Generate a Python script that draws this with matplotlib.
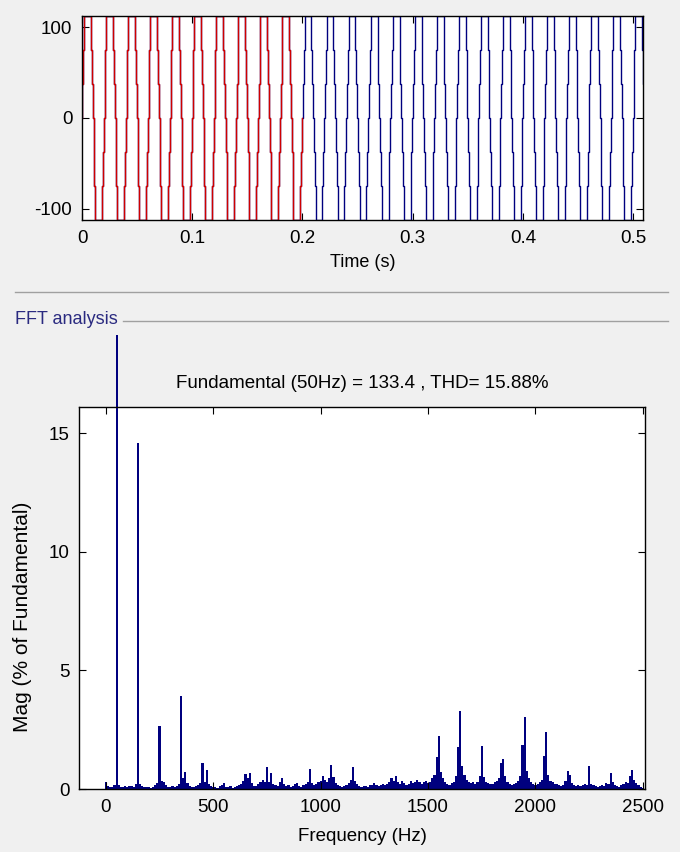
import numpy as np
import matplotlib
matplotlib.use("Agg")
import matplotlib.pyplot as plt
from matplotlib.lines import Line2D
from matplotlib.transforms import Bbox, TransformedBbox

plt.rcParams['font.family'] = ['Liberation Sans', 'DejaVu Sans']
plt.rcParams['axes.unicode_minus'] = False

# one 50 Hz cycle of the staircase signal: switching phase (deg) and level
f0 = 50.0
n_cycles = 26
cycle_deg = [0, 8, 20, 34, 146, 160, 172, 188, 200, 214, 326, 340, 352]
cycle_level = [0, 37.5, 75, 112.5, 75, 37.5, 0, -37.5, -75, -112.5, -75, -37.5, 0]
fft_window = 0.2  # s, part of the signal shown in red

# FFT magnitudes (% of fundamental), 10 Hz bins from 0 to 2500 Hz
mag = [
    0.30, 0.12, 0.10, 0.08, 0.15, 100.0, 0.15, 0.10, 0.08, 0.12, 0.10, 0.14, 0.12, 0.10, 0.20, 14.6, 0.22, 0.12, 0.10, 0.08, 0.10, 0.06, 0.10, 0.18, 0.25,
    2.65, 0.35, 0.28, 0.15, 0.10, 0.08, 0.12, 0.10, 0.14, 0.22, 3.92, 0.45, 0.70, 0.25, 0.12, 0.08, 0.10, 0.14, 0.18, 0.25, 1.08, 0.30, 0.78, 0.22, 0.12,
    0.08, 0.10, 0.06, 0.12, 0.18, 0.25, 0.10, 0.08, 0.12, 0.06, 0.10, 0.14, 0.18, 0.22, 0.35, 0.62, 0.45, 0.68, 0.25, 0.12, 0.14, 0.22, 0.30, 0.38, 0.28,
    0.92, 0.30, 0.68, 0.22, 0.15, 0.12, 0.30, 0.45, 0.20, 0.12, 0.18, 0.10, 0.14, 0.20, 0.25, 0.12, 0.10, 0.15, 0.22, 0.30, 0.85, 0.25, 0.18, 0.22, 0.30,
    0.35, 0.55, 0.40, 0.28, 0.45, 1.00, 0.50, 0.25, 0.15, 0.12, 0.10, 0.14, 0.18, 0.25, 0.40, 0.92, 0.35, 0.20, 0.12, 0.10, 0.14, 0.12, 0.10, 0.15, 0.18,
    0.25, 0.15, 0.12, 0.18, 0.22, 0.15, 0.20, 0.30, 0.45, 0.35, 0.55, 0.30, 0.20, 0.35, 0.25, 0.15, 0.20, 0.35, 0.25, 0.30, 0.40, 0.28, 0.22, 0.30, 0.35,
    0.25, 0.30, 0.45, 0.60, 1.35, 2.25, 0.70, 0.45, 0.30, 0.22, 0.18, 0.25, 0.30, 0.55, 1.75, 3.30, 0.95, 0.60, 0.40, 0.30, 0.25, 0.28, 0.22, 0.30, 0.55,
    1.82, 0.50, 0.30, 0.25, 0.20, 0.22, 0.28, 0.35, 0.45, 1.10, 1.25, 0.55, 0.30, 0.22, 0.18, 0.20, 0.25, 0.35, 0.55, 1.85, 3.05, 0.75, 0.45, 0.30, 0.22,
    0.18, 0.22, 0.28, 0.40, 1.40, 2.42, 0.60, 0.35, 0.28, 0.22, 0.20, 0.18, 0.12, 0.15, 0.35, 0.75, 0.60, 0.25, 0.15, 0.12, 0.18, 0.12, 0.15, 0.20, 0.15,
    0.98, 0.20, 0.15, 0.12, 0.10, 0.14, 0.18, 0.12, 0.25, 0.20, 0.68, 0.30, 0.15, 0.12, 0.10, 0.15, 0.20, 0.30, 0.25, 0.55, 0.82, 0.40, 0.25, 0.15, 0.10,
    0.05,
]
freq = np.arange(len(mag)) * 10.0

fund_hz = 50
fund_mag = 133.4
thd = 15.88

# build time signal by repeating the cycle
T = 1.0 / f0
t = np.concatenate([(k + np.array(cycle_deg) / 360.0) * T for k in range(n_cycles)])
v = np.tile(cycle_level, n_cycles)

bg = '#f0f0f0'
navy = '#00007f'
fig = plt.figure(figsize=(6.8, 8.52), dpi=100, facecolor=bg)

# ---- signal plot ----
ax1 = fig.add_axes([82/680, 1-220/852, 561/680, 204/852])
ax1.plot(t, v, drawstyle='steps-post', color=navy, lw=1.0)
sel = t <= fft_window
ax1.plot(np.append(t[sel], fft_window), np.append(v[sel], v[sel][-1]),
         drawstyle='steps-post', color='#d00000', lw=1.0)
ax1.set_xlim(0, 0.509)
ax1.set_ylim(-112.5, 112.5)
ax1.set_xticks([0, 0.1, 0.2, 0.3, 0.4, 0.5])
ax1.set_xticklabels(['0', '0.1', '0.2', '0.3', '0.4', '0.5'])
ax1.set_yticks([-100, 0, 100])
ax1.set_xlabel('Time (s)', fontsize=13, labelpad=5)

# ---- FFT plot ----
ax2 = fig.add_axes([79/680, 1-789/852, 566/680, 382/852])
bars = ax2.bar(freq, mag, width=10, color=navy, linewidth=0)
# fundamental bar runs past the axes up to the panel edge
panel = TransformedBbox(Bbox([[0, 0], [1, 1-335/852]]), fig.transFigure)
bars[fund_hz // 10].set_clip_box(panel)
ax2.set_xlim(-125, 2510)
ax2.set_ylim(0, 16.1)
ax2.set_xticks([0, 500, 1000, 1500, 2000, 2500])
ax2.set_yticks([0, 5, 10, 15])
ax2.set_xlabel('Frequency (Hz)', fontsize=13.5, labelpad=9)
ax2.set_ylabel('Mag (% of Fundamental)', fontsize=15)
ax2.yaxis.set_label_coords(-0.083, 0.45)
ax2.set_title(f'Fundamental ({fund_hz}Hz) = {fund_mag} , THD= {thd}%',
              fontsize=13.5, pad=14)

for ax in (ax1, ax2):
    ax.set_facecolor('white')
    ax.tick_params(direction='in', length=5, width=0.8, top=True, right=True,
                   labelsize=13.5, pad=7)
    for s in ax.spines.values():
        s.set_linewidth(1.0)

# panel separators and title
fig.add_artist(Line2D([15/680, 668/680], [1-292/852]*2, color='#a0a0a0', lw=1.0))
fig.add_artist(Line2D([123/680, 668/680], [1-321/852]*2, color='#a0a0a0', lw=1.0))
fig.text(15/680, 1-319/852, 'FFT analysis', fontsize=13, color='#2a2a80',
         ha='left', va='center')

fig.savefig('out.png', dpi=100, facecolor=bg)
